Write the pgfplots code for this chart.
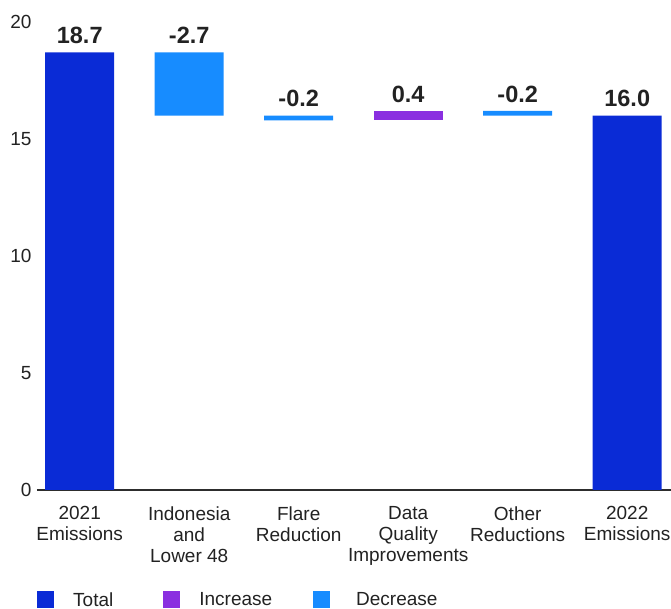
\documentclass[border=0pt]{standalone}
\usepackage{pgfplots}
\pgfplotsset{compat=1.18}
\usepackage{fontspec}
\setmainfont{Liberation Sans}
\definecolor{cTotal}{HTML}{0A2BD6}
\definecolor{cInc}{HTML}{8A2FE0}
\definecolor{cDec}{HTML}{178CFF}
\definecolor{txt}{HTML}{222222}
\begin{document}
\begin{tikzpicture}
\begin{axis}[
  name=main,
  scale only axis,
  width=634pt, height=468pt,
  xmin=-0.39, xmax=5.4, ymin=0, ymax=20,
  ybar stacked, bar width=0.63,
  axis y line*=left, axis x line*=bottom,
  y axis line style={draw=none},
  x axis line style={draw=txt!95, line width=1.6pt},
  ytick={0,5,10,15,20}, ytick style={draw=none},
  xtick={0,1,2,3,4,5}, xtick style={draw=none},
  xticklabels={{2021\\Emissions},{Indonesia\\and\\Lower 48},{Flare\\Reduction},{Data\\Quality\\Improvements},{Other\\Reductions},{2022\\Emissions}},
  xticklabel style={align=center, font=\fontsize{19}{21}\selectfont, text=txt, yshift=-13pt},
  yticklabel style={font=\fontsize{19}{21}\selectfont, text=txt, xshift=-2pt},
  /pgf/number format/assume math mode=true,
  enlargelimits=false, clip=false,
  legend columns=-1,
  legend style={at={(0,-0.235)}, anchor=west, draw=none, fill=none, inner sep=0pt,
    font=\fontsize{19}{21}\selectfont, text=txt,
    /tikz/column 1/.append style={column sep=17pt},
    /tikz/column 2/.append style={column sep=48pt},
    /tikz/column 3/.append style={column sep=17pt},
    /tikz/column 4/.append style={column sep=39pt},
    /tikz/column 5/.append style={column sep=24pt}},
  legend image code/.code={\fill[#1] (0pt,-8.5pt) rectangle (17pt,8.5pt);},
]
% invisible base
\addplot[draw=none, fill=none, forget plot] coordinates {(0,0) (1,16.0) (2,15.8) (3,15.8) (4,16.0) (5,0)};
\addplot[draw=none, fill=cTotal] coordinates {(0,18.7) (1,0) (2,0) (3,0) (4,0) (5,16.0)};
\addplot[draw=none, fill=cInc] coordinates {(0,0) (1,0) (2,0) (3,0.4) (4,0) (5,0)};
\addplot[draw=none, fill=cDec] coordinates {(0,0) (1,2.7) (2,0.2) (3,0) (4,0.2) (5,0)};
\legend{Total, Increase, Decrease}
\end{axis}
\begin{axis}[
  scale only axis,
  width=634pt, height=468pt,
  xmin=-0.39, xmax=5.4, ymin=0, ymax=20,
  hide axis, clip=false,
]
\addplot[only marks, mark=none, nodes near coords, point meta=explicit symbolic,
  nodes near coords style={anchor=south, yshift=5pt, font=\fontsize{23.5}{27}\selectfont\bfseries, text=txt}]
  table[meta=label] {
x y label
0 18.7 18.7
1 18.7 -2.7
2 16.0 -0.2
3 16.2 0.4
4 16.2 -0.2
5 16.0 16.0
};
\end{axis}
\pgfresetboundingbox
\path[use as bounding box] ([xshift=-37pt,yshift=-119pt]main.south west) rectangle ([yshift=22pt]main.north east);
\end{tikzpicture}
\end{document}
